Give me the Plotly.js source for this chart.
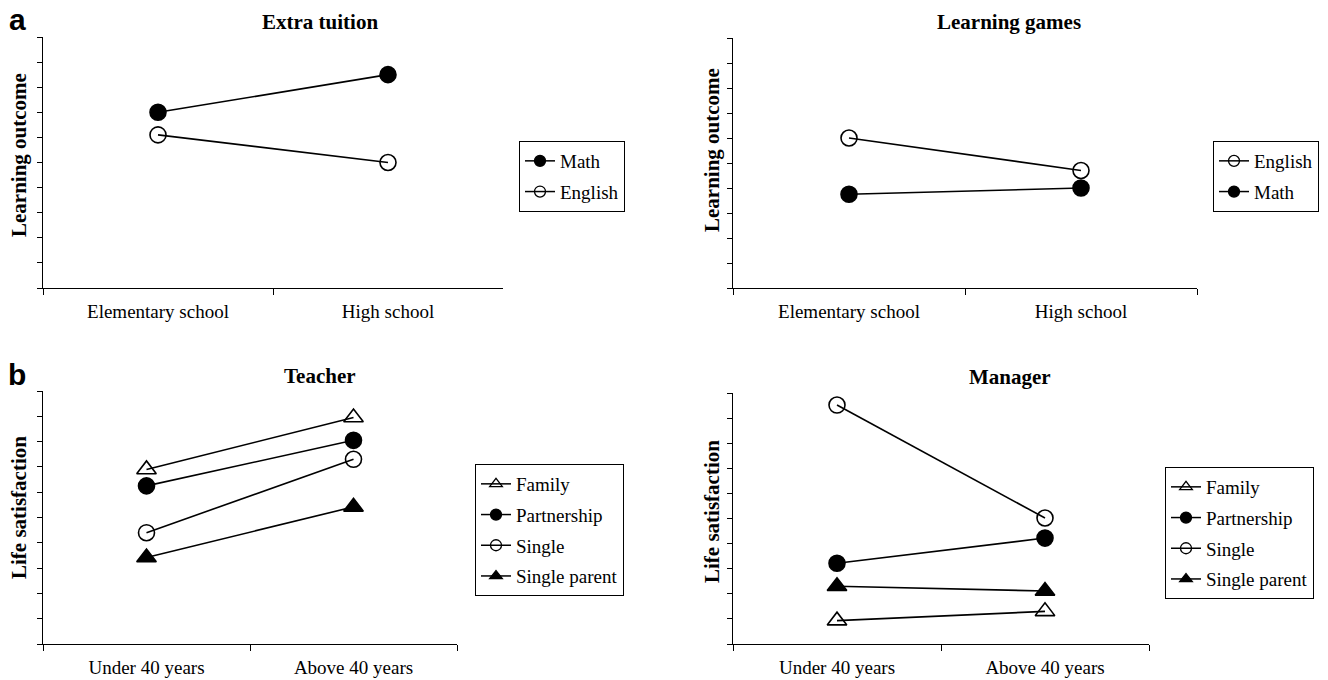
<!DOCTYPE html>
<html>
<head>
<meta charset="utf-8">
<script src="https://cdn.plot.ly/plotly-3.0.1.min.js"></script>
<style>html,body{margin:0;padding:0;background:#fff;}#chart{width:1328px;height:680px;}</style>
</head>
<body>
<div id="chart"></div>
<script>
// ---- Data ----
const schoolLevels = ['Elementary school', 'High school'];
const tuitionMath = [7.0, 8.5];
const tuitionEnglish = [6.1, 5.0];
const gamesEnglish = [6.0, 4.7];
const gamesMath = [3.75, 4.0];

const ageGroups = ['Under 40 years', 'Above 40 years'];
const teacherFamily = [6.9, 8.95];
const teacherPartnership = [6.25, 8.05];
const teacherSingle = [4.4, 7.3];
const teacherSingleParent = [3.42, 5.42];

const managerFamily = [0.93, 1.3];
const managerPartnership = [3.22, 4.22];
const managerSingle = [9.52, 5.02];
const managerSingleParent = [2.3, 2.11];

const panelTitles = ['Extra tuition', 'Learning games', 'Teacher', 'Manager'];
const yTitles = ['Learning outcome', 'Life satisfaction'];

// ---- Styles ----
const SERIF = 'Liberation Serif, Times New Roman, serif';
const W = 1328, H = 680;
const px = v => v / W;
const py = v => 1 - v / H;

const sym = {
  filledCircle: 'circle',
  openCircle: 'circle-open',
  openTri: 'triangle-up-open',
  filledTri: 'triangle-up'
};

const data = [];
// plotted series (no legend entry) + a legend-only entry with smaller marker
function series(name, x, y, symbol, xa, ya, legend, size) {
  data.push({
    type: 'scatter', mode: 'lines+markers', name: name, x: x, y: y,
    xaxis: xa, yaxis: ya, showlegend: false,
    line: {color: '#000', width: 1.6},
    marker: {symbol: symbol, size: size || 16, color: '#000', line: {color: '#000', width: 1.6}},
    hoverinfo: 'skip', cliponaxis: false
  });
  data.push({
    type: 'scatter', mode: 'lines+markers', name: name, x: x, y: [null, null],
    xaxis: xa, yaxis: ya, legend: legend, legendgroup: legend + name, showlegend: true,
    line: {color: '#000', width: 1.5},
    marker: {symbol: symbol, size: size ? 11 : 11, color: '#000', line: {color: '#000', width: 1.3}},
    hoverinfo: 'skip'
  });
}

series('Math', schoolLevels, tuitionMath, sym.filledCircle, 'x', 'y', 'legend');
series('English', schoolLevels, tuitionEnglish, sym.openCircle, 'x', 'y', 'legend');
series('English', schoolLevels, gamesEnglish, sym.openCircle, 'x2', 'y2', 'legend2');
series('Math', schoolLevels, gamesMath, sym.filledCircle, 'x2', 'y2', 'legend2');
series('Family', ageGroups, teacherFamily, sym.openTri, 'x3', 'y3', 'legend3', 17);
series('Partnership', ageGroups, teacherPartnership, sym.filledCircle, 'x3', 'y3', 'legend3');
series('Single', ageGroups, teacherSingle, sym.openCircle, 'x3', 'y3', 'legend3');
series('Single parent', ageGroups, teacherSingleParent, sym.filledTri, 'x3', 'y3', 'legend3', 17);
series('Family', ageGroups, managerFamily, sym.openTri, 'x4', 'y4', 'legend4', 17);
series('Partnership', ageGroups, managerPartnership, sym.filledCircle, 'x4', 'y4', 'legend4');
series('Single', ageGroups, managerSingle, sym.openCircle, 'x4', 'y4', 'legend4');
series('Single parent', ageGroups, managerSingleParent, sym.filledTri, 'x4', 'y4', 'legend4', 17);

function xAxis(domain, anchor) {
  return {
    domain: domain, anchor: anchor, type: 'category', range: [-0.5, 1.5],
    tickson: 'boundaries', ticks: 'outside', ticklen: 6, tickwidth: 1, tickcolor: '#000',
    showline: true, linecolor: '#000', linewidth: 1, showgrid: false, zeroline: false,
    ticklabelstandoff: 6,
    tickfont: {family: SERIF, size: 19, color: '#000'}, fixedrange: true
  };
}
function yAxis(domain, anchor) {
  return {
    domain: domain, anchor: anchor, range: [0, 10], dtick: 1, tick0: 0,
    ticks: 'outside', ticklen: 5, tickwidth: 1, tickcolor: '#000', showticklabels: false,
    showline: true, linecolor: '#000', linewidth: 1, showgrid: false, zeroline: false, fixedrange: true
  };
}
function legendBox(x, y) {
  return {
    x: x, y: y, xanchor: 'left', yanchor: 'top', xref: 'paper', yref: 'paper',
    bgcolor: '#fff', bordercolor: '#000', borderwidth: 1,
    font: {family: SERIF, size: 19, color: '#000'}, itemsizing: 'trace',
    tracegroupgap: 3, traceorder: 'grouped', itemwidth: 30
  };
}

function ann(text, x, y, opts) {
  return Object.assign({text: text, x: px(x), y: py(y), xref: 'paper', yref: 'paper',
    showarrow: false, xanchor: 'center', yanchor: 'middle'}, opts || {});
}
const titleFont = {family: SERIF, size: 21, color: '#000'};
const letterFont = {family: 'Liberation Sans, Arial, sans-serif', size: 30, color: '#000'};

const layout = {
  width: W, height: H, margin: {l: 0, r: 0, t: 0, b: 0},
  paper_bgcolor: '#fff', plot_bgcolor: '#fff', showlegend: true,
  xaxis: xAxis([px(43), px(503)], 'y'),
  yaxis: yAxis([py(288), py(37)], 'x'),
  xaxis2: xAxis([px(733), px(1197)], 'y2'),
  yaxis2: yAxis([py(288), py(38)], 'x2'),
  xaxis3: xAxis([px(43), px(457)], 'y3'),
  yaxis3: yAxis([py(644), py(391)], 'x3'),
  xaxis4: xAxis([px(733), px(1149)], 'y4'),
  yaxis4: yAxis([py(644), py(393)], 'x4'),
  legend: legendBox(px(519), py(141)),
  legend2: legendBox(px(1213), py(141)),
  legend3: legendBox(px(475), py(464)),
  legend4: legendBox(px(1165), py(467)),
  annotations: [
    ann('<b>a</b>', 17, 19, {font: letterFont}),
    ann('<b>b</b>', 17, 374, {font: letterFont}),
    ann('<b>' + panelTitles[0] + '</b>', 320, 22, {font: titleFont}),
    ann('<b>' + panelTitles[1] + '</b>', 1009, 22, {font: titleFont}),
    ann('<b>' + panelTitles[2] + '</b>', 320, 376, {font: titleFont}),
    ann('<b>' + panelTitles[3] + '</b>', 1010, 377, {font: titleFont}),
    ann('<b>' + yTitles[0] + '</b>', 19, 155, {font: titleFont, textangle: -90}),
    ann('<b>' + yTitles[0] + '</b>', 712, 150, {font: titleFont, textangle: -90}),
    ann('<b>' + yTitles[1] + '</b>', 19, 508, {font: titleFont, textangle: -90}),
    ann('<b>' + yTitles[1] + '</b>', 712, 512, {font: titleFont, textangle: -90})
  ]
};

Plotly.newPlot('chart', data, layout, {displayModeBar: false, staticPlot: true});
</script>
</body>
</html>
